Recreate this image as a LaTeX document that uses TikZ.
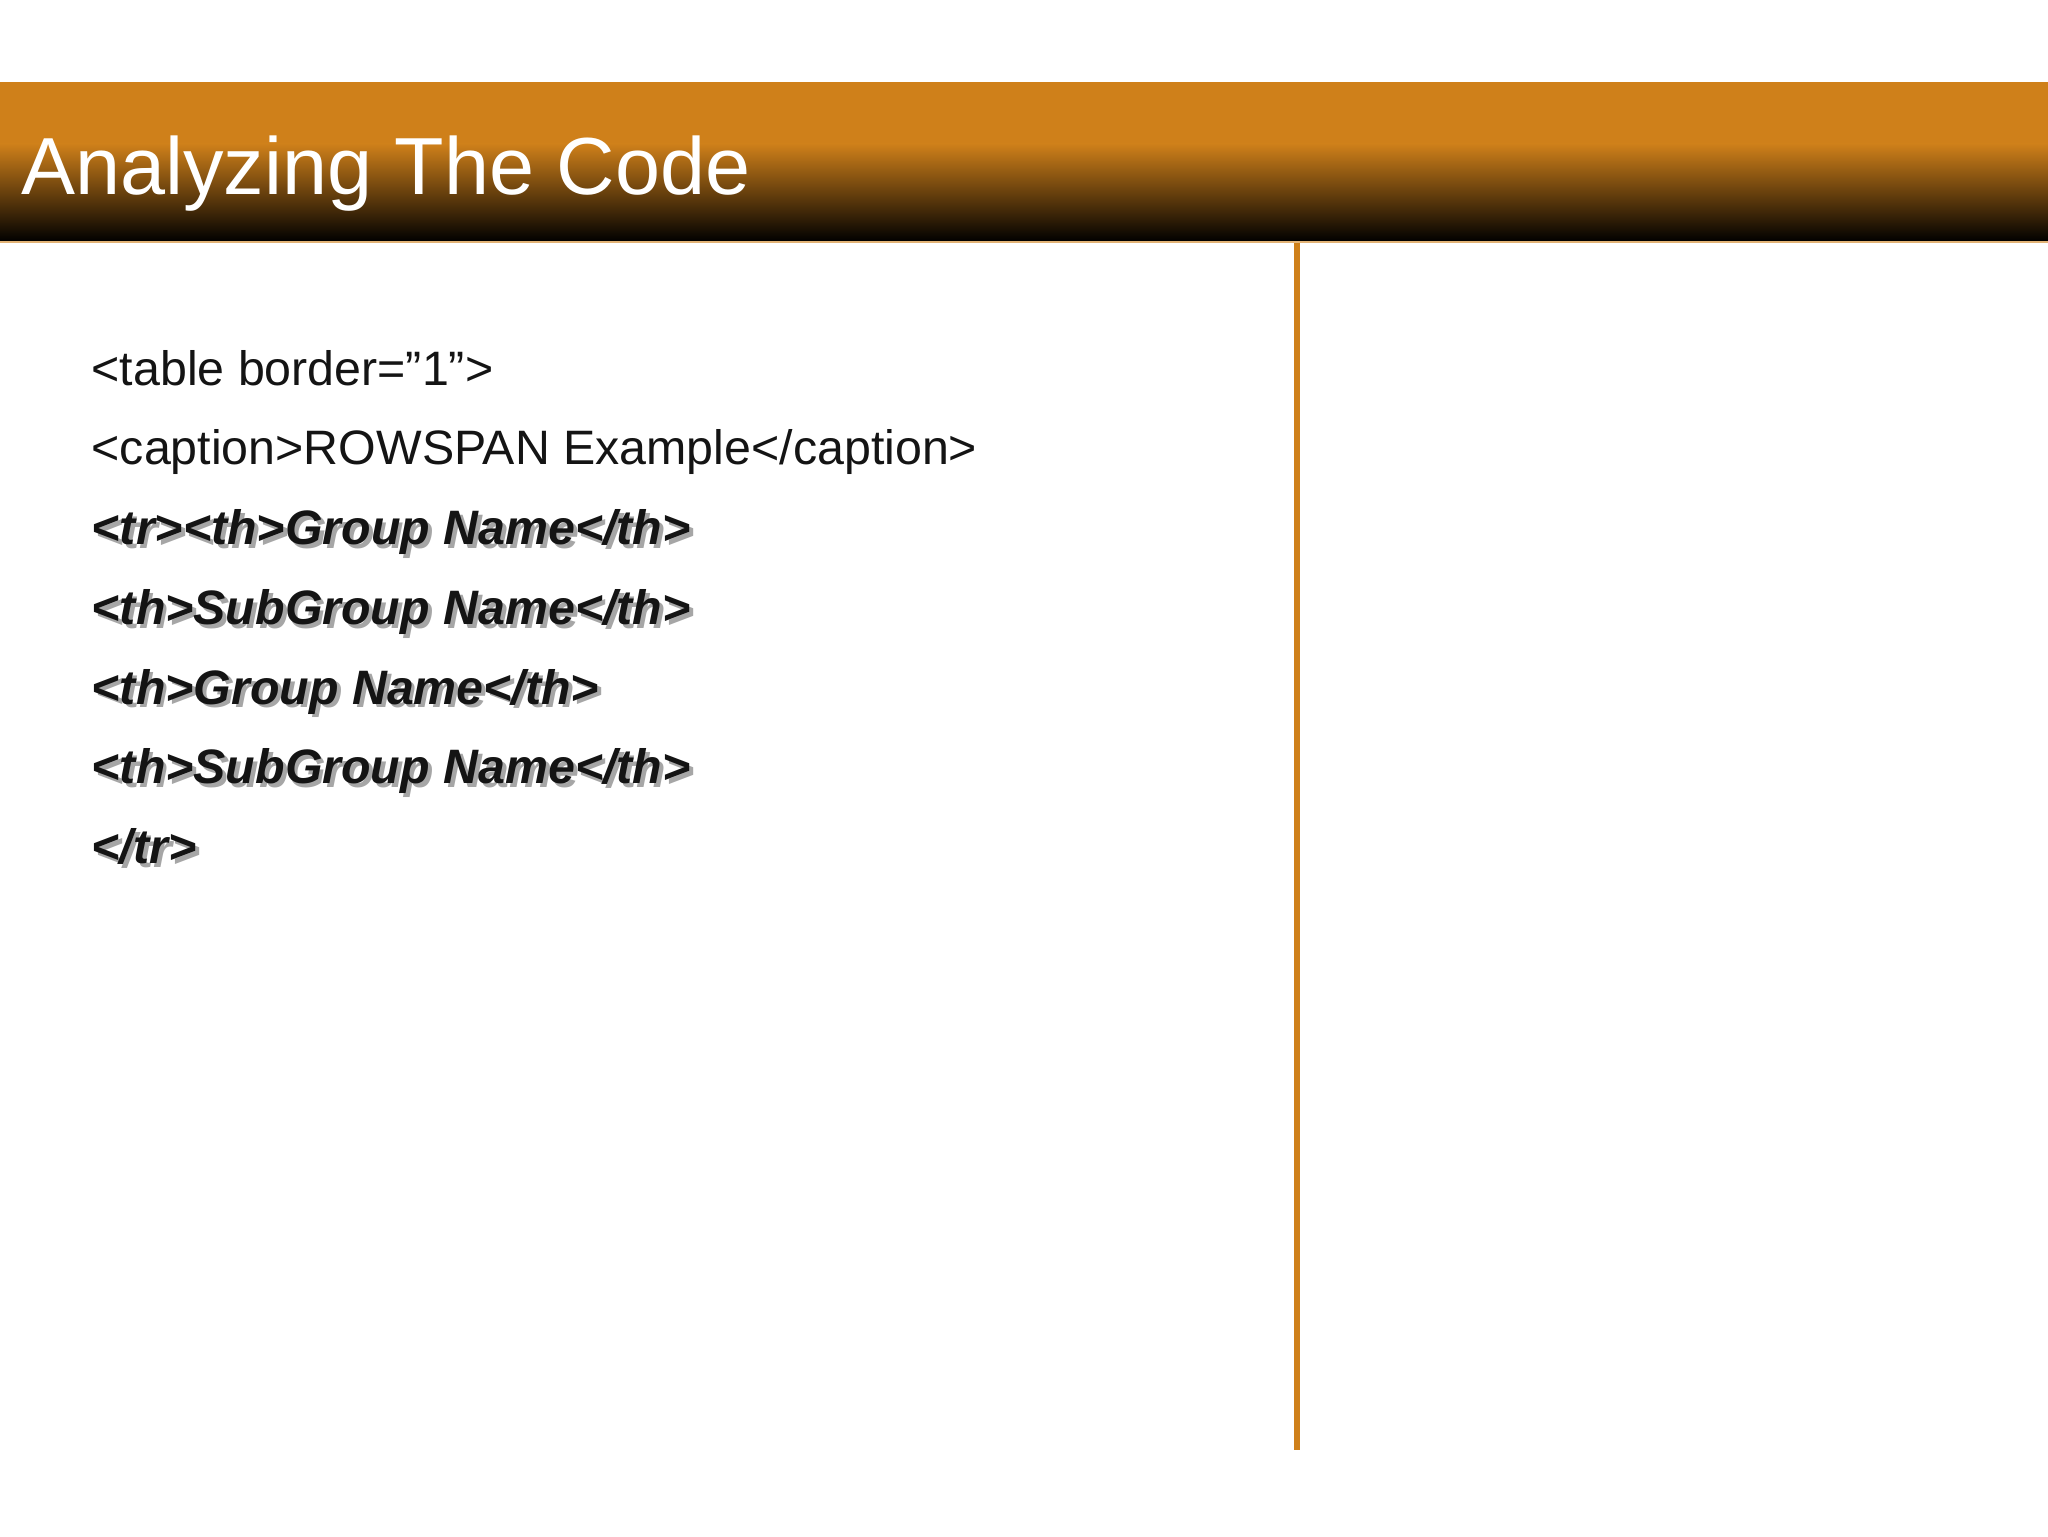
\documentclass[tikz,border=0pt]{standalone}
\usepackage{fontspec}
\setmainfont{Liberation Sans}
\definecolor{hdr}{RGB}{207,128,26}
\definecolor{hdrmid}{RGB}{160,95,18}
\definecolor{txt}{RGB}{20,20,20}
\tikzset{
  code/.style={anchor=base west,inner sep=0pt,font=\fontsize{37}{40}\selectfont,text=txt},
  bcode/.style={code,font=\fontsize{37}{40}\selectfont\bfseries\itshape},
  shadow/.style={bcode,text=black!35}
}
\begin{document}
\begin{tikzpicture}[x=1pt,y=-1pt]
\useasboundingbox (0,0) rectangle (1568,1176);
\fill[white] (0,0) rectangle (1568,1176);
\shade[top color=hdr,bottom color=hdr] (0,63) rectangle (1568,110);
\shade[top color=hdr,bottom color=black] (0,110) rectangle (1568,185);
\draw[hdr!60,line width=1.5] (0,185) -- (1568,185);
\node[anchor=base west,inner sep=0pt,text=white,font=\fontsize{62}{66}\selectfont] (title) at (16,149) {Analyzing The Code};
\draw[hdr,line width=5] (993,186) -- (993,1110);
\node[code] (l1) at (70,295) {<table border="1">};
\node[code] (l2) at (70,356) {<caption>ROWSPAN Example</caption>};
\foreach \n/\y/\t in {l3/417/{<tr><th>Group Name</th>},l4/478/{<th>SubGroup Name</th>},l5/539/{<th>Group Name</th>},l6/600/{<th>SubGroup Name</th>},l7/661/{</tr>}}{
  \node[shadow] at (73,\y+3) {\t};
  \node[bcode] (\n) at (70,\y) {\t};
}
\end{tikzpicture}
\end{document}
